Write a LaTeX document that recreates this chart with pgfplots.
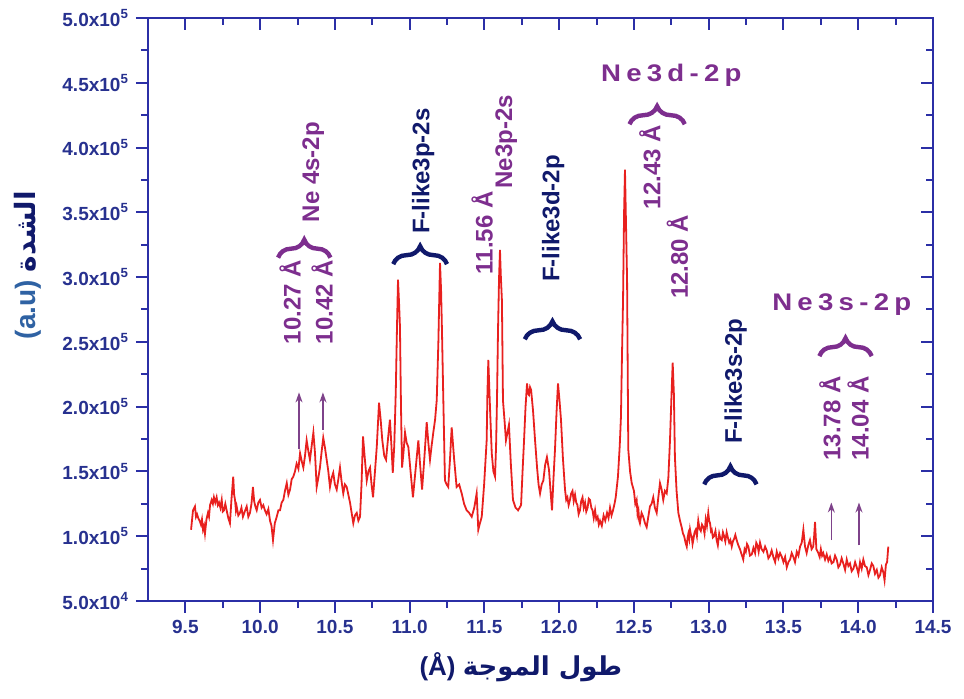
\documentclass[border=0pt]{standalone}
\usepackage{fontspec}
\setmainfont{Liberation Sans}
\newfontfamily\arabicfont[Script=Arabic]{DejaVu Sans}
\newfontfamily\annwide{Liberation Sans}[LetterSpace=22,FakeStretch=1.15]
\usepackage{pgfplots}
\pgfplotsset{compat=1.18}
\usetikzlibrary{decorations.pathreplacing,arrows.meta}
\TeXXeTstate=1

\definecolor{axblue}{HTML}{2B2FA6}
\definecolor{tickblue}{HTML}{27318F}
\definecolor{ylab}{HTML}{2F62A3}
\definecolor{purp}{HTML}{7D2E8E}
\definecolor{navy}{HTML}{10196B}
\definecolor{spec}{HTML}{E8201E}

\pgfplotstableread{
x y
9.538 1.05
9.551 1.20
9.564 1.23
9.571 1.15
9.578 1.17
9.586 1.14
9.595 1.12
9.604 1.09
9.611 1.13
9.618 1.05
9.625 1.08
9.631 1.02
9.641 1.13
9.651 1.18
9.658 1.15
9.665 1.24
9.676 1.28
9.684 1.25
9.691 1.30
9.700 1.26
9.709 1.30
9.717 1.24
9.725 1.26
9.734 1.22
9.743 1.28
9.750 1.19
9.758 1.20
9.767 1.25
9.776 1.20
9.787 1.14
9.798 1.10
9.808 1.28
9.820 1.46
9.826 1.32
9.832 1.28
9.838 1.20
9.843 1.23
9.854 1.16
9.865 1.18
9.875 1.22
9.885 1.15
9.897 1.19
9.910 1.23
9.921 1.15
9.932 1.18
9.942 1.25
9.952 1.38
9.960 1.27
9.968 1.23
9.977 1.20
9.988 1.26
9.999 1.28
10.010 1.22
10.021 1.24
10.032 1.20
10.043 1.17
10.055 1.21
10.066 1.12
10.076 1.08
10.086 0.97
10.098 1.10
10.111 1.15
10.122 1.20
10.133 1.20
10.144 1.26
10.155 1.28
10.166 1.35
10.178 1.41
10.189 1.32
10.200 1.36
10.211 1.44
10.222 1.46
10.233 1.50
10.244 1.56
10.256 1.52
10.267 1.64
10.278 1.58
10.289 1.53
10.300 1.62
10.311 1.74
10.322 1.66
10.333 1.59
10.345 1.70
10.356 1.80
10.367 1.64
10.378 1.38
10.389 1.45
10.400 1.53
10.411 1.65
10.422 1.76
10.434 1.68
10.445 1.59
10.456 1.50
10.467 1.38
10.478 1.45
10.489 1.49
10.500 1.40
10.512 1.36
10.523 1.44
10.534 1.53
10.545 1.42
10.556 1.33
10.567 1.40
10.579 1.38
10.590 1.32
10.601 1.26
10.612 1.18
10.623 1.10
10.634 1.16
10.646 1.18
10.657 1.12
10.668 1.15
10.678 1.40
10.688 1.77
10.700 1.60
10.713 1.43
10.724 1.50
10.735 1.53
10.745 1.40
10.755 1.30
10.768 1.50
10.780 1.69
10.795 2.03
10.806 1.90
10.817 1.74
10.830 1.62
10.842 1.59
10.855 1.75
10.868 1.90
10.878 1.70
10.887 1.49
10.897 1.70
10.907 2.11
10.915 2.60
10.922 2.98
10.929 2.80
10.935 2.62
10.942 2.00
10.949 1.53
10.959 1.65
10.969 1.80
10.980 1.72
10.991 1.69
11.006 1.50
11.022 1.30
11.040 1.52
11.058 1.74
11.070 1.55
11.083 1.36
11.098 1.60
11.114 1.88
11.125 1.72
11.136 1.59
11.147 1.70
11.158 1.80
11.170 1.90
11.181 2.05
11.192 2.50
11.200 2.95
11.203 3.11
11.210 2.90
11.216 2.59
11.226 2.00
11.236 1.43
11.247 1.40
11.258 1.38
11.270 1.60
11.281 1.84
11.297 1.60
11.314 1.38
11.331 1.40
11.348 1.33
11.364 1.25
11.381 1.20
11.398 1.18
11.415 1.15
11.432 1.22
11.448 1.33
11.459 1.05
11.470 1.10
11.482 1.15
11.498 1.40
11.515 1.74
11.520 2.10
11.526 2.36
11.537 2.00
11.549 1.64
11.560 1.50
11.571 1.46
11.578 1.70
11.584 2.05
11.591 2.60
11.598 3.00
11.604 3.21
11.610 3.00
11.617 2.82
11.624 2.05
11.634 1.90
11.644 1.74
11.654 1.80
11.664 1.86
11.677 1.55
11.691 1.28
11.708 1.22
11.725 1.20
11.745 1.24
11.755 1.50
11.765 1.74
11.775 2.00
11.785 2.18
11.792 2.10
11.798 2.09
11.805 2.15
11.812 2.13
11.825 1.97
11.838 1.75
11.852 1.53
11.862 1.40
11.872 1.33
11.883 1.40
11.894 1.43
11.906 1.55
11.918 1.61
11.932 1.51
11.942 1.35
11.952 1.20
11.962 1.45
11.972 1.67
11.982 1.95
11.992 2.18
12.002 2.05
12.012 1.90
12.025 1.60
12.039 1.36
12.047 1.28
12.055 1.30
12.063 1.24
12.072 1.28
12.080 1.33
12.089 1.35
12.097 1.27
12.106 1.32
12.114 1.26
12.122 1.24
12.130 1.17
12.139 1.20
12.147 1.27
12.156 1.30
12.164 1.22
12.173 1.26
12.181 1.19
12.190 1.22
12.198 1.29
12.206 1.28
12.215 1.22
12.223 1.20
12.231 1.14
12.240 1.20
12.248 1.13
12.257 1.15
12.265 1.09
12.273 1.12
12.285 1.08
12.297 1.16
12.308 1.12
12.320 1.18
12.330 1.14
12.340 1.22
12.350 1.16
12.360 1.20
12.370 1.25
12.378 1.30
12.393 1.46
12.405 1.70
12.413 1.92
12.420 2.40
12.427 2.82
12.434 3.50
12.440 3.83
12.447 3.40
12.454 2.98
12.462 1.67
12.474 1.50
12.485 1.41
12.500 1.35
12.509 1.25
12.518 1.28
12.524 1.17
12.530 1.20
12.535 1.12
12.540 1.10
12.551 1.18
12.562 1.15
12.574 1.10
12.585 1.07
12.596 1.15
12.607 1.23
12.618 1.25
12.629 1.30
12.640 1.22
12.652 1.18
12.663 1.30
12.674 1.41
12.685 1.36
12.696 1.28
12.707 1.35
12.719 1.33
12.730 1.45
12.741 1.74
12.750 2.05
12.759 2.34
12.767 2.10
12.774 1.61
12.785 1.35
12.797 1.18
12.808 1.12
12.819 1.07
12.828 1.02
12.836 1.00
12.845 0.95
12.853 0.92
12.859 0.99
12.864 1.02
12.870 0.98
12.875 1.05
12.881 1.01
12.886 1.00
12.892 0.94
12.897 0.97
12.905 1.03
12.913 1.05
12.921 1.00
12.930 1.12
12.938 1.06
12.947 1.04
12.955 1.09
12.964 1.07
12.972 1.02
12.980 1.13
12.988 1.08
12.997 1.18
13.003 1.12
13.009 1.10
13.015 1.04
13.020 1.05
13.028 0.99
13.036 1.00
13.045 1.04
13.053 0.97
13.061 0.93
13.070 1.02
13.078 0.98
13.087 0.97
13.095 1.03
13.103 1.00
13.111 0.96
13.120 1.03
13.128 0.99
13.137 0.95
13.145 0.97
13.154 0.92
13.162 0.96
13.170 0.98
13.178 1.01
13.187 0.97
13.198 0.93
13.209 0.90
13.220 0.86
13.231 0.82
13.240 0.90
13.248 0.88
13.256 0.94
13.265 0.92
13.276 0.85
13.288 0.86
13.299 0.91
13.310 0.87
13.318 0.95
13.326 0.93
13.334 0.88
13.343 0.95
13.354 0.90
13.366 0.88
13.377 0.92
13.388 0.89
13.399 0.83
13.410 0.85
13.421 0.89
13.432 0.84
13.444 0.80
13.455 0.88
13.466 0.83
13.477 0.87
13.489 0.84
13.500 0.80
13.511 0.84
13.522 0.76
13.533 0.80
13.544 0.82
13.555 0.87
13.566 0.84
13.577 0.80
13.589 0.88
13.600 0.85
13.611 0.92
13.622 0.95
13.633 1.05
13.644 0.92
13.655 0.87
13.666 0.93
13.677 0.97
13.688 0.90
13.699 0.92
13.705 1.00
13.711 1.11
13.720 0.90
13.733 0.87
13.742 0.84
13.750 0.90
13.758 0.85
13.766 0.87
13.778 0.82
13.789 0.86
13.800 0.81
13.811 0.84
13.822 0.79
13.834 0.80
13.845 0.85
13.856 0.82
13.867 0.76
13.878 0.78
13.889 0.83
13.900 0.79
13.912 0.74
13.923 0.82
13.934 0.77
13.945 0.79
13.956 0.73
13.968 0.75
13.979 0.80
13.990 0.76
14.001 0.71
14.012 0.80
14.023 0.75
14.034 0.82
14.045 0.77
14.057 0.76
14.068 0.70
14.079 0.74
14.090 0.79
14.101 0.77
14.112 0.71
14.124 0.74
14.135 0.68
14.146 0.70
14.157 0.76
14.168 0.72
14.176 0.66
14.185 0.78
14.193 0.80
14.201 0.92
}\spectrum

\begin{document}
\begin{tikzpicture}
\pgfplotsset{
  frame/.style={
    scale only axis, width=392.5pt, height=291.5pt,
    xmin=9.25, xmax=14.5, ymin=0.5, ymax=5,
    xtick={9.5,10,10.5,11,11.5,12,12.5,13,13.5,14,14.5},
    ytick={0.5,1,1.5,2,2.5,3,3.5,4,4.5,5},
    minor x tick num=1, minor y tick num=1,
    axis line style={axblue, line width=1pt},
    every tick/.style={axblue, line width=1pt},
    major tick length=6pt, minor tick length=3.5pt,
  }
}
% box with the inward ticks on top and right
\begin{axis}[frame, tick pos=right, tick align=inside,
  xticklabels={}, yticklabels={}]
\end{axis}
\begin{axis}[frame, name=main, tick pos=left, tick align=outside,
  xticklabels={9.5,10.0,10.5,11.0,11.5,12.0,12.5,13.0,13.5,14.0,14.5},
  yticklabels={5.0x10\textsuperscript{4},1.0x10\textsuperscript{5},1.5x10\textsuperscript{5},
    2.0x10\textsuperscript{5},2.5x10\textsuperscript{5},3.0x10\textsuperscript{5},
    3.5x10\textsuperscript{5},4.0x10\textsuperscript{5},4.5x10\textsuperscript{5},
    5.0x10\textsuperscript{5}},
  ticklabel style={font=\bfseries\fontsize{9.5}{10}\selectfont, text=tickblue},
  xlabel={(Å) {\arabicfont\beginR طول الموجة\endR}},
  xlabel style={font=\bfseries\fontsize{13}{14}\selectfont, text=navy,
    at={(ticklabel cs:0.475,5pt)}, inner sep=1pt},
  ylabel={{\color{ylab}(a.u)} {\color{navy}\arabicfont\beginR الشدة\endR}},
  ylabel style={font=\bfseries\fontsize{14}{15}\selectfont,
    at={(ticklabel cs:0.576,6pt)}, inner sep=1pt},
]
\addplot[spec, line width=0.9pt] table[x=x, y=y] {\spectrum};

% line labels, braces and arrows
\tikzset{lab/.style={rotate=90, anchor=west, inner sep=0pt,
  font=\bfseries\fontsize{12}{12}\selectfont},
  br/.style={line width=2.2pt, decorate, decoration={brace, amplitude=9pt}},
  arr/.style={-{Stealth[length=5pt,width=3.5pt]}, purp!75!gray, line width=0.7pt}}
\node[lab, purp] at (axis cs:10.20,2.48) {10.27 Å};
\node[lab, purp] at (axis cs:10.415,2.48) {10.42 Å};
\draw[arr] (axis cs:10.26,1.67) -- (axis cs:10.26,2.11);
\draw[arr] (axis cs:10.42,1.82) -- (axis cs:10.42,2.11);
\draw[br, purp] (axis cs:10.12,3.15) -- (axis cs:10.47,3.15);
\node[lab, purp] at (axis cs:10.355,3.42) {Ne 4s-2p};

\draw[br, navy] (axis cs:10.89,3.10) -- (axis cs:11.25,3.10);
\node[lab, navy] at (axis cs:11.09,3.33) {F-like3p-2s};

\node[lab, purp] at (axis cs:11.485,3.02) {11.56 Å};
\node[lab, purp] at (axis cs:11.645,3.68) {Ne3p-2s};

\draw[br, navy] (axis cs:11.77,2.52) -- (axis cs:12.14,2.52);
\node[lab, navy] at (axis cs:11.96,2.96) {F-like3d-2p};

\node[purp, inner sep=0pt, font=\annwide\bfseries\fontsize{12}{12}\selectfont]
  at (axis cs:12.75,4.56) {Ne3d-2p};
\draw[br, purp] (axis cs:12.47,4.18) -- (axis cs:12.84,4.18);
\node[lab, purp] at (axis cs:12.607,3.52) {12.43 Å};
\node[lab, purp] at (axis cs:12.79,2.83) {12.80 Å};

\draw[br, navy] (axis cs:12.97,1.40) -- (axis cs:13.32,1.40);
\node[lab, navy] at (axis cs:13.18,1.71) {F-like3s-2p};

\node[purp, inner sep=0pt, font=\annwide\bfseries\fontsize{12}{12}\selectfont]
  at (axis cs:13.89,2.79) {Ne3s-2p};
\draw[br, purp] (axis cs:13.74,2.39) -- (axis cs:14.09,2.39);
\node[lab, purp] at (axis cs:13.81,1.58) {13.78 Å};
\node[lab, purp] at (axis cs:14.00,1.58) {14.04 Å};
\draw[arr] (axis cs:13.82,0.97) -- (axis cs:13.82,1.26);
\draw[arr] (axis cs:14.005,0.93) -- (axis cs:14.005,1.26);
\end{axis}
\pgfresetboundingbox
\path ([xshift=-74pt,yshift=-49pt]main.south west) rectangle ([xshift=15.5pt,yshift=9pt]main.north east);
\end{tikzpicture}
\end{document}
